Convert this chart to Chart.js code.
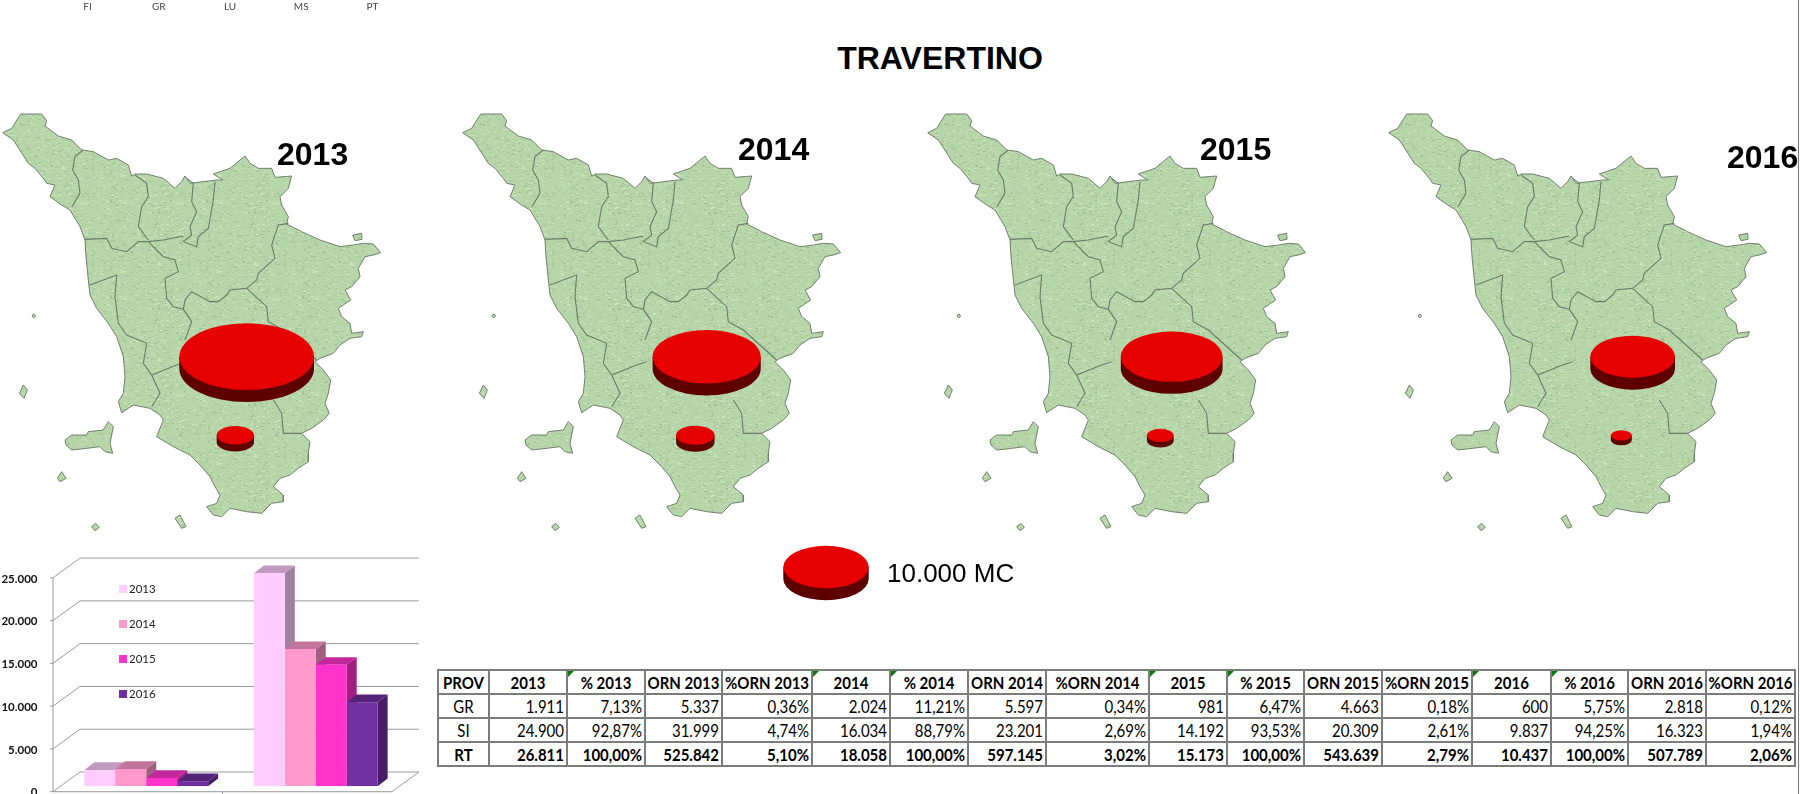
<!DOCTYPE html>
<html>
<head>
<meta charset="utf-8">
<title>Travertino</title>
<script src="https://cdn.jsdelivr.net/npm/chart.js@4"></script>
<style>
html, body { margin: 0; padding: 0; background: #fff; }
body { position: relative; width: 1800px; height: 794px; overflow: hidden; font-family: "Liberation Sans", Arial, sans-serif; }
.box { position: absolute; }
.title { left: 0; width: 1880px; top: 40px; text-align: center; font-weight: bold; font-size: 32px; line-height: 36px; color: #000; }
.year { font-weight: bold; font-size: 32px; line-height: 36px; color: #000; }
.unit { left: 887px; top: 558px; font-size: 26px; line-height: 30px; color: #000; }
.edge { left: 1798px; top: 0; width: 1px; height: 794px; background: #777; }
.legend-item { font-family: Lato, sans-serif; font-size: 11.5px; line-height: 14px; color: #222; }
.legend-item i { display: inline-block; width: 8px; height: 8px; margin-right: 2px; }
#tbl { left: 437px; top: 669px; border-collapse: collapse; table-layout: fixed; font-family: Lato, sans-serif; font-size: 15px; color: #000; }
#tbl td { border: 2px solid #7c7c7c; height: 22px; padding: 0 2px 0 0; text-align: right; white-space: nowrap; overflow: hidden; }
#tbl td span { display: inline-block; transform: scaleY(1.12); }
#tbl td.c { text-align: center; padding: 0; }
#tbl tr.b td { font-weight: bold; }
#tbl td.flag { background: linear-gradient(135deg, #0a7a0a 4px, transparent 4.5px); }
</style>
</head>
<body>
<div class="box title">TRAVERTINO</div>
<canvas id="topAxis" class="box" style="left:52px;top:0"></canvas>
<canvas id="map2013" class="box" style="left:0;top:100px"></canvas>
<canvas id="map2014" class="box" style="left:460px;top:100px"></canvas>
<canvas id="map2015" class="box" style="left:925px;top:100px"></canvas>
<canvas id="map2016" class="box" style="left:1386px;top:100px"></canvas>
<canvas id="scaleKey" class="box" style="left:766px;top:527px"></canvas>
<canvas id="barChart" class="box" style="left:0;top:530px"></canvas>
<div class="box year" style="left:277px;top:136px">2013</div>
<div class="box year" style="left:738px;top:131px">2014</div>
<div class="box year" style="left:1200px;top:131px">2015</div>
<div class="box year" style="left:1727px;top:139px">2016</div>
<div class="box unit">10.000 MC</div>
<div class="box edge"></div>
<table id="tbl" class="box"></table>
<script>
// leftover axis labels at the top of the sheet
const topLabels = ['FI', 'GR', 'LU', 'MS', 'PT'];

// table and chart values
const years = ['2013', '2014', '2015', '2016'];
const provinces = ['GR', 'SI', 'RT'];
const volGR = [1911, 2024, 981, 600];
const volSI = [24900, 16034, 14192, 9837];
const volRT = [26811, 18058, 15173, 10437];
const pctGR = ['7,13%', '11,21%', '6,47%', '5,75%'];
const pctSI = ['92,87%', '88,79%', '93,53%', '94,25%'];
const pctRT = ['100,00%', '100,00%', '100,00%', '100,00%'];
const ornGR = ['5.337', '5.597', '4.663', '2.818'];
const ornSI = ['31.999', '23.201', '20.309', '16.323'];
const ornRT = ['525.842', '597.145', '543.639', '507.789'];
const pctOrnGR = ['0,36%', '0,34%', '0,18%', '0,12%'];
const pctOrnSI = ['4,74%', '2,69%', '2,61%', '1,94%'];
const pctOrnRT = ['5,10%', '3,02%', '2,79%', '2,06%'];
const keyValue = 10000;

const barColors = ['#FFCCFF', '#FF99CC', '#FF33CC', '#7030A0'];

// map geometry, in map units
const coast = [[8,98],[35,85],[62,42],[125,42],[140,62],[135,78],[175,108],[215,120],[245,150],[280,155],[325,180],[350,175],[385,195],[395,228],[405,222],[440,222],[490,235],[525,265],[545,245],[555,228],[570,250],[610,245],[650,240],[668,240],[640,222],[690,205],[735,168],[750,190],[775,205],[815,205],[825,232],[875,228],[865,265],[840,290],[845,315],[865,350],[860,372],[905,395],[960,420],[1020,440],[1060,435],[1090,430],[1120,432],[1142,458],[1120,465],[1095,470],[1075,505],[1080,530],[1055,560],[1035,570],[1052,600],[1015,625],[1025,650],[1050,670],[1055,700],[1090,695],[1085,710],[1050,715],[1020,735],[1000,760],[960,775],[945,785],[970,810],[992,840],[985,880],[975,910],[988,940],[970,960],[935,985],[905,1000],[930,1025],[925,1060],[925,1085],[895,1105],[870,1125],[840,1135],[820,1160],[850,1185],[850,1205],[815,1210],[785,1240],[740,1235],[690,1225],[665,1250],[640,1245],[620,1220],[650,1210],[660,1185],[645,1160],[630,1130],[600,1095],[570,1065],[520,1040],[470,1010],[490,960],[480,945],[450,925],[400,915],[365,938],[355,905],[370,880],[375,830],[370,770],[350,710],[325,670],[290,625],[270,585],[265,540],[258,470],[255,420],[240,380],[210,330],[185,315],[150,290],[165,255],[140,250],[130,235],[105,205],[85,190],[40,120],[8,98]];
const elba = [[195,1020],[215,1005],[260,1005],[265,995],[310,990],[325,965],[340,980],[330,1030],[338,1060],[315,1055],[300,1040],[260,1045],[215,1050],[198,1035],[195,1020]];
const capraia = [[58,880],[70,855],[82,870],[72,895],[58,880]];
const gorgona = [[96,648],[101,641],[107,648],[101,654],[96,648]];
const pianosa = [[172,1135],[185,1115],[198,1135],[180,1145],[172,1135]];
const giglio = [[525,1255],[540,1245],[558,1280],[545,1285],[525,1255]];
const montecristo = [[275,1280],[287,1270],[298,1282],[285,1292],[275,1280]];
const exclave = [[1058,405],[1085,400],[1086,418],[1065,422],[1058,405]];
const land = [coast, elba, capraia, gorgona, pianosa, giglio, montecristo, exclave];
const borders = [
  [[215,322],[240,280],[235,240],[218,210],[225,170],[250,150]],
  [[255,418],[320,415],[335,445],[380,455],[415,425],[445,425],[490,420],[550,408]],
  [[405,225],[440,250],[445,290],[425,320],[415,380],[445,420]],
  [[560,235],[580,250],[575,305],[590,335],[570,380],[575,405],[550,425],[590,440],[595,410],[625,385],[640,300],[645,245]],
  [[445,425],[490,470],[525,480],[535,515],[495,535],[500,595],[520,620],[550,628],[575,665],[555,720]],
  [[865,370],[835,375],[815,435],[825,475],[775,520],[770,540],[740,565],[690,570],[680,585],[655,605],[630,605],[575,575],[555,600],[550,628]],
  [[740,565],[800,620],[805,665],[850,690],[950,780]],
  [[270,555],[350,525],[345,590],[355,670],[380,705],[440,730],[430,790],[455,825],[480,880],[455,920]],
  [[455,825],[530,795],[560,785]],
  [[820,900],[845,940],[850,1000],[905,1000]]
];
// where the discs sit on the map
const siSeat = { x: 740, y: 770 };
const grSeat = { x: 706, y: 1006 };

const toXY = pts => pts.map(p => ({ x: p[0], y: p[1] }));

// disc radius: area follows the volume, 10.000 MC is 43px wide each side
function discRadius(value) {
  return 42.7 * Math.sqrt(value / keyValue);
}

// relief texture for the land fill
function reliefPattern() {
  const tile = document.createElement('canvas');
  tile.width = tile.height = 96;
  const c = tile.getContext('2d');
  c.fillStyle = '#B6D5A9';
  c.fillRect(0, 0, 96, 96);
  let h = 12345;
  for (let i = 0; i < 900; i++) {
    h = (h * 1103515245 + 12345) & 0x7fffffff;
    const x = (h >> 8) % 96;
    const y = (h >> 15) % 96;
    c.fillStyle = i % 2 ? 'rgba(222,240,208,0.5)' : 'rgba(142,182,130,0.45)';
    c.fillRect(x, y, 1 + (h >> 5) % 3, 1 + (h >> 3) % 2);
  }
  return document.createElement('canvas').getContext('2d').createPattern(tile, 'repeat');
}
const relief = reliefPattern();

// pie look for bubble points: red top, dark rim
const discPlugin = {
  id: 'disc',
  afterDatasetsDraw(chart) {
    const ctx = chart.ctx;
    chart.data.datasets.forEach((ds, i) => {
      if (ds.type !== 'bubble' && chart.config.type !== 'bubble') return;
      chart.getDatasetMeta(i).data.forEach(pt => {
        const rx = pt.options.radius;
        const ry = rx * 0.495;
        const depth = Math.min(12, 2 + rx * 0.26);
        ctx.save();
        ctx.fillStyle = '#5E0000';
        ctx.beginPath();
        ctx.ellipse(pt.x, pt.y + depth, rx, ry, 0, 0, Math.PI * 2);
        ctx.rect(pt.x - rx, pt.y, rx * 2, depth);
        ctx.fill('nonzero');
        ctx.fillStyle = '#E60000';
        ctx.beginPath();
        ctx.ellipse(pt.x, pt.y, rx, ry, 0, 0, Math.PI * 2);
        ctx.fill();
        ctx.restore();
      });
    });
  }
};

function drawMap(id, yearIdx) {
  const canvas = document.getElementById(id);
  const landSets = land.map(shape => ({
    type: 'scatter', data: toXY(shape), showLine: true, fill: 'shape', pointRadius: 0,
    backgroundColor: relief, borderColor: '#6F7F6C', borderWidth: 1, tension: 0, order: 3
  }));
  const borderSets = borders.map(line => ({
    type: 'scatter', data: toXY(line), showLine: true, fill: false, pointRadius: 0,
    borderColor: '#6A7A67', borderWidth: 1.1, tension: 0, order: 2
  }));
  new Chart(canvas, {
    data: {
      datasets: landSets.concat(borderSets, [{
        type: 'bubble',
        data: [
          { x: siSeat.x, y: siSeat.y, v: volSI[yearIdx] },
          { x: grSeat.x, y: grSeat.y, v: volGR[yearIdx] }
        ],
        radius: c => discRadius(c.raw.v),
        backgroundColor: 'transparent', borderWidth: 0, order: 1
      }])
    },
    options: {
      responsive: false, animation: false, maintainAspectRatio: false,
      layout: { padding: 0, autoPadding: false },
      plugins: { legend: { display: false }, tooltip: { enabled: false } },
      scales: {
        x: { type: 'linear', display: false, min: 0, max: 1200 },
        y: { type: 'linear', display: false, min: 0, max: 1350, reverse: true }
      }
    },
    plugins: [discPlugin]
  });
}
['map2013', 'map2014', 'map2015', 'map2016'].forEach((id, i) => {
  const c = document.getElementById(id);
  c.width = 400; c.height = 450;
  drawMap(id, i);
});

// key disc for 10.000 MC
const keyCanvas = document.getElementById('scaleKey');
keyCanvas.width = 120; keyCanvas.height = 80;
new Chart(keyCanvas, {
  type: 'bubble',
  data: { datasets: [{ data: [{ x: 0.5, y: 0.5, v: keyValue }], radius: c => discRadius(c.raw.v), backgroundColor: 'transparent', borderWidth: 0 }] },
  options: {
    responsive: false, animation: false,
    layout: { padding: 0, autoPadding: false },
    plugins: { legend: { display: false }, tooltip: { enabled: false } },
    scales: { x: { display: false, min: 0, max: 1 }, y: { display: false, min: 0, max: 1 } }
  },
  plugins: [discPlugin]
});

// top axis labels
const topCanvas = document.getElementById('topAxis');
topCanvas.width = 356; topCanvas.height = 24;
new Chart(topCanvas, {
  type: 'bar',
  data: { labels: topLabels, datasets: [{ data: [] }] },
  options: {
    responsive: false, animation: false,
    layout: { padding: { top: 2 } },
    plugins: { legend: { display: false }, tooltip: { enabled: false } },
    scales: {
      y: { display: false },
      x: { position: 'bottom', border: { display: false }, grid: { display: false, drawTicks: false }, ticks: { padding: 0, maxRotation: 0, color: '#444', font: { family: 'Lato', size: 10 } } }
    }
  },
  plugins: [{
    // labels only: pull the axis up so they sit at the sheet's top edge
    id: 'liftAxis',
    afterLayout(chart) {
      const xs = chart.scales.x;
      const shift = xs.top - 1;
      xs.top -= shift;
      xs.bottom -= shift;
    }
  }]
});

function shade(hex, f) {
  const n = parseInt(hex.slice(1), 16);
  const ch = s => Math.round(((n >> s) & 255) * f);
  return 'rgb(' + ch(16) + ',' + ch(8) + ',' + ch(0) + ')';
}

// fake 3d: walls, floor and the bar tops/sides, all hung on the chart's scales
const BACK_DX = 27, BACK_DY = -19.7;      // front plane to back wall
const FRONT_DX = -8.5, FRONT_DY = 5.4;    // bar plane to front plane
const BAR_DX = 10, BAR_DY = -7.7;         // bar depth
const box3d = {
  id: 'box3d',
  beforeDatasetsDraw(chart) {
    const ctx = chart.ctx;
    const { x: xs, y: ys } = chart.scales;
    const fx0 = xs.left + FRONT_DX, fx1 = xs.right + FRONT_DX;
    ctx.save();
    ctx.strokeStyle = '#9A9A9A';
    ctx.lineWidth = 1;
    ys.ticks.forEach(t => {
      const fy = ys.getPixelForValue(t.value) + FRONT_DY;
      ctx.beginPath();
      ctx.moveTo(fx0 - 3, fy);
      ctx.lineTo(fx0, fy);
      ctx.lineTo(fx0 + BACK_DX, fy + BACK_DY);
      ctx.lineTo(fx1 + BACK_DX, fy + BACK_DY);
      ctx.stroke();
    });
    // left wall edge, floor front and right
    const y0 = ys.getPixelForValue(0) + FRONT_DY;
    const yTop = ys.getPixelForValue(25000) + FRONT_DY;
    ctx.beginPath();
    ctx.moveTo(fx0, yTop);
    ctx.lineTo(fx0, y0);
    ctx.lineTo(fx1, y0);
    ctx.lineTo(fx1 + BACK_DX, y0 + BACK_DY);
    ctx.moveTo((fx0 + fx1) / 2, y0);
    ctx.lineTo((fx0 + fx1) / 2, y0 + 3);
    ctx.stroke();
    // bar tops and sides, left to right in each group
    const cats = chart.data.labels.length;
    for (let c = 0; c < cats; c++) {
      chart.data.datasets.forEach((ds, i) => {
        const bar = chart.getDatasetMeta(i).data[c];
        const half = bar.width / 2;
        const r = bar.x + half, l = bar.x - half;
        ctx.fillStyle = shade(ds.backgroundColor, 0.63);
        ctx.beginPath();
        ctx.moveTo(r, bar.y);
        ctx.lineTo(r + BAR_DX, bar.y + BAR_DY);
        ctx.lineTo(r + BAR_DX, bar.base + BAR_DY);
        ctx.lineTo(r, bar.base);
        ctx.fill();
        ctx.fillStyle = shade(ds.backgroundColor, 0.76);
        ctx.beginPath();
        ctx.moveTo(l, bar.y);
        ctx.lineTo(l + BAR_DX, bar.y + BAR_DY);
        ctx.lineTo(r + BAR_DX, bar.y + BAR_DY);
        ctx.lineTo(r, bar.y);
        ctx.fill();
      });
    }
    ctx.restore();
  }
};

const barCanvas = document.getElementById('barChart');
barCanvas.width = 430; barCanvas.height = 280;
new Chart(barCanvas, {
  type: 'bar',
  data: {
    labels: provinces.slice(0, 2),
    datasets: years.map((y, i) => ({
      label: y,
      data: [volGR[i], volSI[i]],
      backgroundColor: barColors[i],
      borderWidth: 0,
      categoryPercentage: 0.73,
      barPercentage: 1
    }))
  },
  options: {
    responsive: false, animation: false,
    layout: { padding: { top: 42.4, bottom: 23.7, right: 29.5 } },
    plugins: { legend: { display: false }, tooltip: { enabled: false } },
    scales: {
      x: { display: false },
      y: {
        min: 0, max: 25000,
        afterFit: s => { s.width = 61.5; },
        border: { display: false },
        grid: { display: false },
        ticks: {
          stepSize: 5000, autoSkip: false, padding: 16, labelOffset: 6.4,
          color: '#111', font: { family: 'Lato', size: 11.5, weight: 'bold' },
          callback: v => v.toLocaleString('de-DE')
        }
      }
    }
  },
  plugins: [box3d]
});

// legend of the bar chart
years.forEach((y, i) => {
  const item = document.createElement('div');
  item.className = 'box legend-item';
  item.style.left = '119px';
  item.style.top = (582 + i * 35) + 'px';
  item.innerHTML = '<i style="background:' + barColors[i] + '"></i>' + y;
  document.body.appendChild(item);
});

// data table
const colWidths = [51, 78, 78, 77, 90, 78, 78, 78, 103, 78, 77, 78, 90, 79, 77, 78, 89];
const flagged = [2, 5, 6, 9, 10, 13, 14];
const tbl = document.getElementById('tbl');
tbl.style.width = colWidths.reduce((a, b) => a + b, 0) + 'px';
tbl.innerHTML = '<colgroup>' + colWidths.map(w => '<col style="width:' + w + 'px">').join('') + '</colgroup>';
const fmt = v => v.toLocaleString('de-DE');
function addRow(cls, cells, centerAll) {
  const tr = tbl.insertRow();
  tr.className = cls;
  cells.forEach((txt, i) => {
    const td = tr.insertCell();
    const sp = document.createElement('span');
    sp.textContent = txt;
    td.appendChild(sp);
    if (i === 0 || centerAll) td.className = 'c';
    if (centerAll && flagged.includes(i)) td.classList.add('flag');
  });
}
const header = ['PROV'];
years.forEach(y => header.push(y, '% ' + y, 'ORN ' + y, '%ORN ' + y));
addRow('b', header, true);
[[volGR, pctGR, ornGR, pctOrnGR], [volSI, pctSI, ornSI, pctOrnSI], [volRT, pctRT, ornRT, pctOrnRT]].forEach((set, p) => {
  const row = [provinces[p]];
  years.forEach((y, i) => row.push(fmt(set[0][i]), set[1][i], set[2][i], set[3][i]));
  addRow(p === 2 ? 'b' : '', row, false);
});
</script>
</body>
</html>
